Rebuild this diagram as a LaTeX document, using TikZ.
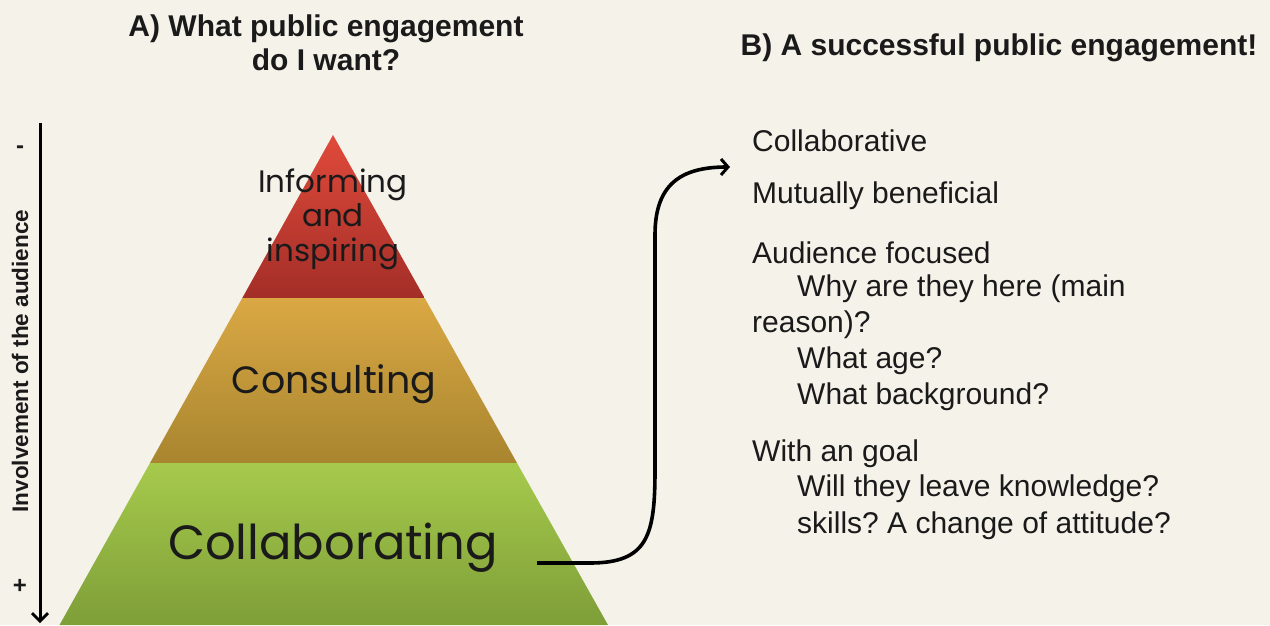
\documentclass[tikz,border=0pt]{standalone}
\usepackage{fontspec}
\setmainfont{Liberation Sans}
\newfontfamily\pyrfont{Poppins}
\usetikzlibrary{arrows.meta}
\definecolor{bg}{HTML}{F5F2EA}
\definecolor{redtop}{HTML}{E04A3A}
\definecolor{redbot}{HTML}{A32E28}
\definecolor{yeltop}{HTML}{DAA844}
\definecolor{yelbot}{HTML}{A8852F}
\definecolor{grntop}{HTML}{A6CA4C}
\definecolor{grnbot}{HTML}{7E9E38}
\definecolor{txt}{HTML}{1A1A1A}
\tikzset{
  title/.style={font=\fontsize{30}{34}\selectfont\bfseries, text=txt, inner sep=0pt, align=center},
  item/.style={font=\fontsize{30}{34}\selectfont, text=txt, inner sep=0pt, anchor=west},
  pyr/.style={font=\pyrfont, text=txt, inner sep=0pt, align=center},
  conn/.style={line width=3.6pt, draw=black},
}
\begin{document}
\frenchspacing
\begin{tikzpicture}[x=1pt,y=-1pt]
\useasboundingbox (0,0) rectangle (1270,625);
\fill[bg] (0,0) rectangle (1270,625);
% pyramid bands
\shade[top color=redtop, bottom color=redbot] (333,135) -- (242.3,298) -- (424.7,298) -- cycle;
\shade[top color=yeltop, bottom color=yelbot] (242.3,298) -- (150,463) -- (517,463) -- (424.7,298) -- cycle;
\shade[top color=grntop, bottom color=grnbot] (150,463) -- (59.5,625) -- (608,625) -- (517,463) -- cycle;
% pyramid labels
\node[pyr, font=\pyrfont\fontsize{31}{34.5}\selectfont] (inform) at (333,219) {Informing\\and\\inspiring};
\node[pyr, font=\pyrfont\fontsize{38}{40}\selectfont] (consult) at (334,384) {Consulting};
\node[pyr, font=\pyrfont\fontsize{48}{52}\selectfont] (collab) at (333,548) {Collaborating};
% titles
\node[title] (ta) at (326,43) {A) What public engagement\\do I want?};
\node[title] (tb) at (999,48) {B) A successful public engagement!};
% axis
\coordinate (axtop) at (40,123);
\coordinate (axbot) at (40,623);
\draw[line width=3pt, -{Straight Barb[length=8pt,width=16pt,line width=2.8pt]}] (axtop) -- (axbot);
\node[font=\fontsize{24}{26}\selectfont\bfseries, text=txt, inner sep=0pt] (minus) at (20,150) {-};
\node[font=\fontsize{24}{26}\selectfont\bfseries, text=txt, inner sep=0pt] (plus) at (20,586) {+};
\node[font=\fontsize{22.5}{26}\selectfont\bfseries, text=txt, inner sep=0pt, rotate=90] (axlabel) at (20,361) {Involvement of the audience};
% right list
\node[item] (l1) at (752,141) {Collaborative};
\node[item] (l2) at (752,196) {Mutually beneficial};
\node[item] (l3) at (752,253) {Audience focused};
\node[item] (l4) at (797,289) {Why are they here (main};
\node[item] (l5) at (752,325) {reason)?};
\node[item] (l6) at (797,361) {What age?};
\node[item] (l7) at (797,397) {What background?};
\node[item] (l8) at (752,454) {With an goal};
\node[item] (l9) at (797,489) {Will they leave knowledge?};
\node[item] (l10) at (797,526) {skills? A change of attitude?};
% connector
\coordinate (cstart) at (537,563);
\coordinate (cend) at (730,167);
\draw[conn, -{Straight Barb[length=7pt,width=16pt,line width=3pt]}] (cstart) -- (590,563) .. controls (648,563) and (655,535) .. (655,470) -- (655,235) .. controls (655,185) and (680,167) .. (cend);
\end{tikzpicture}
\end{document}
